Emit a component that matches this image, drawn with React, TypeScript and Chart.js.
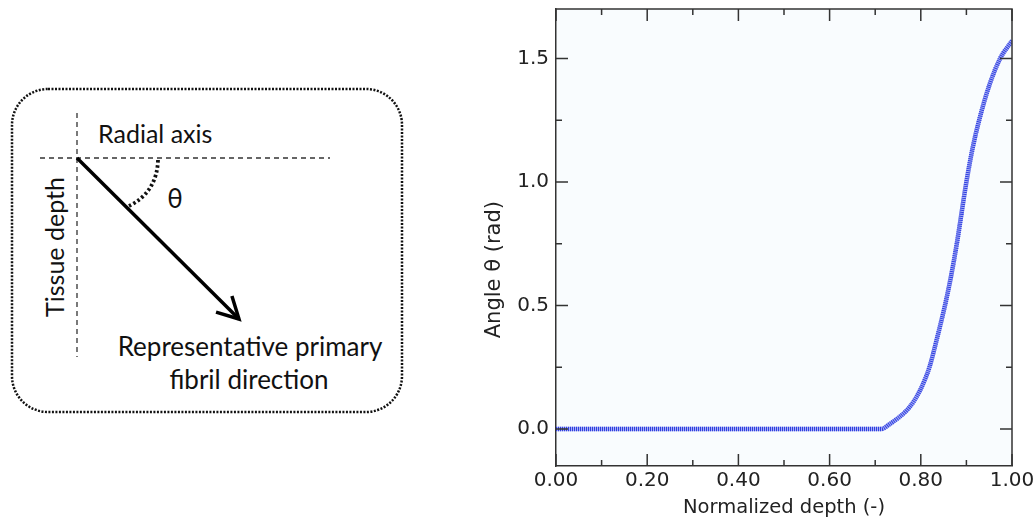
import React, { useEffect, useRef } from "react";
import { Chart, registerables } from "chart.js";

Chart.register(...registerables);

// ---- data ----
const depth = [0, 0.1, 0.2, 0.3, 0.4, 0.5, 0.6, 0.7, 0.714, 0.732, 0.751, 0.769, 0.784, 0.798, 0.809, 0.819, 0.836, 0.853, 0.866, 0.879, 0.9, 0.914, 0.928, 0.95, 0.974, 1.0];
const angle = [0, 0, 0, 0, 0, 0, 0, 0, 0, 0.02, 0.045, 0.075, 0.11, 0.155, 0.2, 0.25, 0.37, 0.5, 0.615, 0.75, 1.0, 1.14, 1.25, 1.39, 1.5, 1.571];

const xMin = 0;
const xMax = 1;
const xTickStep = 0.1;
const xLabelStep = 0.2;
const yMin = -0.15;
const yMax = 1.7;
const yTickStep = 0.25;
const yLabelStep = 0.5;

const xTitle = "Normalized depth (-)";
const yTitle = "Angle θ (rad)";

const diagramRadial = "Radial axis";
const diagramDepth = "Tissue depth";
const diagramTheta = "θ";
const diagramFibril1 = "Representative primary";
const diagramFibril2 = "fibril direction";

const FONT = '"DejaVu Sans", Verdana, sans-serif';
const AXIS = "#333333";
const TEXT = "#222222";

const isMult = (v: number, s: number) => Math.abs(v / s - Math.round(v / s)) < 1e-6;

const framePlugin = {
  id: "frameTicks",
  beforeDraw(chart: any) {
    const { ctx, chartArea: a } = chart;
    ctx.save();
    ctx.fillStyle = "#f9fcfe";
    ctx.fillRect(a.left, a.top, a.right - a.left, a.bottom - a.top);
    ctx.restore();
  },
  afterDatasetsDraw(chart: any) {
    const { ctx, chartArea: a, scales } = chart;
    ctx.save();
    ctx.strokeStyle = AXIS;
    ctx.lineWidth = 1.5;
    ctx.beginPath();
    ctx.moveTo(a.left, a.top);
    ctx.lineTo(a.right, a.top);
    ctx.lineTo(a.right, a.bottom);
    ctx.stroke();

    const xs = scales.x;
    ctx.beginPath();
    xs.ticks.forEach((t: any) => {
      const p = xs.getPixelForValue(t.value);
      const len = isMult(t.value, xLabelStep) ? 12 : 6;
      ctx.moveTo(p, a.bottom);
      ctx.lineTo(p, a.bottom - len);
      ctx.moveTo(p, a.top);
      ctx.lineTo(p, a.top + len);
    });
    const ys = scales.y;
    ys.ticks.forEach((t: any) => {
      const p = ys.getPixelForValue(t.value);
      const len = isMult(t.value, yLabelStep) ? 12 : 6;
      ctx.moveTo(a.left, p);
      ctx.lineTo(a.left + len, p);
      ctx.moveTo(a.right, p);
      ctx.lineTo(a.right - len, p);
    });
    ctx.stroke();

    // y-axis title
    ctx.fillStyle = TEXT;
    ctx.font = `21px ${FONT}`;
    ctx.textAlign = "center";
    ctx.textBaseline = "middle";
    ctx.translate(a.left - 61, (ys.getPixelForValue(0) + ys.getPixelForValue(1.5)) / 2 + 26);
    ctx.rotate(-Math.PI / 2);
    ctx.fillText(yTitle, 0, 0);
    ctx.restore();
  },
};

function AngleChart() {
  const ref = useRef<HTMLCanvasElement | null>(null);
  useEffect(() => {
    if (!ref.current) return;
    const points = depth.map((d, i) => ({ x: d, y: angle[i] }));
    const chart = new Chart(ref.current, {
      type: "line",
      data: {
        datasets: [
          {
            data: points,
            borderColor: "#2f3fe0",
            borderWidth: 4.5,
            borderDash: [1, 1],
            pointRadius: 0,
            cubicInterpolationMode: "monotone",
            fill: false,
            order: 0,
          },
          {
            data: points,
            borderColor: "#a9b0f5",
            borderWidth: 4.5,
            pointRadius: 0,
            cubicInterpolationMode: "monotone",
            fill: false,
            order: 1,
          },
        ],
      },
      options: {
        animation: false,
        responsive: true,
        maintainAspectRatio: false,
        layout: { padding: { left: 0, top: 9, right: 24, bottom: 0 } },
        plugins: { legend: { display: false }, tooltip: { enabled: false } },
        scales: {
          x: {
            type: "linear",
            min: xMin,
            max: xMax,
            afterBuildTicks: (s: any) => {
              s.ticks = s.ticks.filter((t: any) => isMult(t.value, xTickStep));
            },
            afterFit: (s: any) => {
              s.height = 56;
              s.paddingLeft = 0;
              s.paddingRight = 0;
            },
            grid: { display: false, drawTicks: false },
            border: { display: true, color: AXIS, width: 1.5 },
            ticks: {
              stepSize: xTickStep,
              autoSkip: false,
              maxRotation: 0,
              padding: 3,
              color: TEXT,
              font: { family: FONT, size: 20 },
              callback: (v: any) => (isMult(Number(v), xLabelStep) ? Number(v).toFixed(2) : ""),
            },
            title: {
              display: true,
              text: xTitle,
              color: TEXT,
              font: { family: FONT, size: 19.5 },
              padding: { top: 0, bottom: 2 },
            },
          },
          y: {
            type: "linear",
            min: yMin,
            max: yMax,
            afterBuildTicks: (s: any) => {
              s.ticks = s.ticks.filter((t: any) => isMult(t.value, yTickStep));
            },
            afterFit: (s: any) => {
              s.width = 86;
              s.paddingTop = 0;
              s.paddingBottom = 0;
            },
            grid: { display: false, drawTicks: false },
            border: { display: true, color: AXIS, width: 1.5 },
            ticks: {
              stepSize: yTickStep,
              autoSkip: false,
              padding: 7,
              color: TEXT,
              font: { family: FONT, size: 20 },
              callback: (v: any) => (isMult(Number(v), yLabelStep) ? Number(v).toFixed(1) : ""),
            },
          },
        },
      },
      plugins: [framePlugin],
    } as any);
    return () => chart.destroy();
  }, []);
  return <canvas ref={ref} />;
}

function Diagram() {
  const tip = { x: 239, y: 319 };
  const origin = { x: 77, y: 158 };
  const ang = Math.atan2(tip.y - origin.y, tip.x - origin.x) + Math.PI;
  const head = 24;
  const spread = (28 * Math.PI) / 180;
  const w1 = { x: tip.x + head * Math.cos(ang + spread), y: tip.y + head * Math.sin(ang + spread) };
  const w2 = { x: tip.x + head * Math.cos(ang - spread), y: tip.y + head * Math.sin(ang - spread) };
  const font = 'Lato, "Noto Sans", sans-serif';
  return (
    <svg width={470} height={522} style={{ position: "absolute", left: 0, top: 0 }}>
      <rect x={12} y={89} width={390} height={323} rx={36} ry={36} fill="none" stroke="#111" strokeWidth={2.5} strokeDasharray="2 1.5" />
      <line x1={77} y1={113} x2={77} y2={357} stroke="#333" strokeWidth={1.3} strokeDasharray="5 4" />
      <line x1={40} y1={158} x2={330} y2={158} stroke="#333" strokeWidth={1.3} strokeDasharray="5 4" />
      <line x1={origin.x} y1={origin.y} x2={tip.x} y2={tip.y} stroke="#000" strokeWidth={3.5} />
      <polyline points={`${w1.x},${w1.y} ${tip.x},${tip.y} ${w2.x},${w2.y}`} fill="none" stroke="#000" strokeWidth={3.5} strokeLinejoin="miter" />
      <path d="M 158 160 Q 157 192 129 206" fill="none" stroke="#111" strokeWidth={3.8} strokeDasharray="2.5 2.5" />
      <text x={175} y={208} fontFamily={font} fontSize={26} textAnchor="middle" fill="#111">{diagramTheta}</text>
      <text x={98} y={143} fontFamily={font} fontSize={25} fill="#111">{diagramRadial}</text>
      <text transform="translate(64,247) rotate(-90)" x={0} y={0} fontFamily={font} fontSize={25} textAnchor="middle" fill="#111">{diagramDepth}</text>
      <text x={250} y={356} fontFamily={font} fontSize={26} textAnchor="middle" fill="#111">{diagramFibril1}</text>
      <text x={249} y={389} fontFamily={font} fontSize={26} textAnchor="middle" fill="#111">{diagramFibril2}</text>
    </svg>
  );
}

export default function App() {
  return (
    <div style={{ position: "fixed", left: 0, top: 0, width: 1036, height: 522, background: "#ffffff", overflow: "hidden" }}>
      <Diagram />
      <div style={{ position: "absolute", left: 470, top: 0, width: 566, height: 522 }}>
        <AngleChart />
      </div>
    </div>
  );
}
